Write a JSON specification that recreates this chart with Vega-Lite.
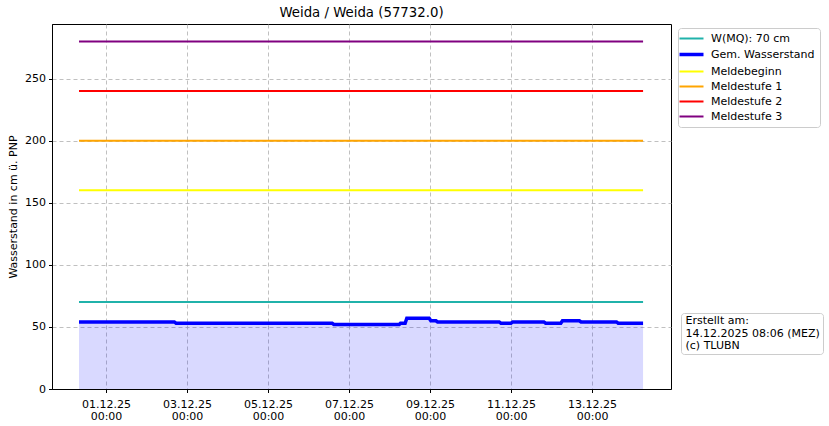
{
  "$schema": "https://vega.github.io/schema/vega-lite/v6.json",
  "width": 619,
  "height": 365,
  "autosize": {"type": "none"},
  "padding": {"left": 52, "top": 24, "right": 158, "bottom": 37},
  "background": "white",
  "title": {"text": "Weida / Weida (57732.0)", "fontSize": 13.3, "fontWeight": "normal", "color": "black", "font": "DejaVu Sans", "anchor": "middle", "offset": 5},
  "config": {
    "font": "DejaVu Sans",
    "view": {"stroke": "black", "strokeWidth": 1},
    "axis": {
      "labelFont": "DejaVu Sans", "labelFontSize": 11, "labelColor": "black",
      "titleFont": "DejaVu Sans", "titleFontSize": 11, "titleFontWeight": "normal", "titleColor": "black",
      "tickColor": "black", "tickSize": 3.5, "domainColor": "black",
      "gridColor": "#b0b0b0", "gridDash": [4, 3], "gridWidth": 0.8, "gridOpacity": 1
    }
  },
  "datasets": {
    "levels": [
      {"t": "2025-11-30T08:00:00Z", "v": 54, "s": "Gem. Wasserstand"},
      {"t": "2025-12-02T16:30:00Z", "v": 54, "s": "Gem. Wasserstand"},
      {"t": "2025-12-02T17:30:00Z", "v": 53, "s": "Gem. Wasserstand"},
      {"t": "2025-12-06T14:00:00Z", "v": 53, "s": "Gem. Wasserstand"},
      {"t": "2025-12-06T15:00:00Z", "v": 52, "s": "Gem. Wasserstand"},
      {"t": "2025-12-08T05:45:00Z", "v": 52, "s": "Gem. Wasserstand"},
      {"t": "2025-12-08T06:30:00Z", "v": 53, "s": "Gem. Wasserstand"},
      {"t": "2025-12-08T09:15:00Z", "v": 53, "s": "Gem. Wasserstand"},
      {"t": "2025-12-08T10:15:00Z", "v": 57, "s": "Gem. Wasserstand"},
      {"t": "2025-12-08T23:30:00Z", "v": 57, "s": "Gem. Wasserstand"},
      {"t": "2025-12-09T00:30:00Z", "v": 55, "s": "Gem. Wasserstand"},
      {"t": "2025-12-09T03:30:00Z", "v": 55, "s": "Gem. Wasserstand"},
      {"t": "2025-12-09T04:30:00Z", "v": 54, "s": "Gem. Wasserstand"},
      {"t": "2025-12-10T17:00:00Z", "v": 54, "s": "Gem. Wasserstand"},
      {"t": "2025-12-10T18:00:00Z", "v": 53, "s": "Gem. Wasserstand"},
      {"t": "2025-12-11T00:00:00Z", "v": 53, "s": "Gem. Wasserstand"},
      {"t": "2025-12-11T01:00:00Z", "v": 54, "s": "Gem. Wasserstand"},
      {"t": "2025-12-11T19:30:00Z", "v": 54, "s": "Gem. Wasserstand"},
      {"t": "2025-12-11T20:30:00Z", "v": 53, "s": "Gem. Wasserstand"},
      {"t": "2025-12-12T05:30:00Z", "v": 53, "s": "Gem. Wasserstand"},
      {"t": "2025-12-12T06:30:00Z", "v": 55, "s": "Gem. Wasserstand"},
      {"t": "2025-12-12T16:30:00Z", "v": 55, "s": "Gem. Wasserstand"},
      {"t": "2025-12-12T17:30:00Z", "v": 54, "s": "Gem. Wasserstand"},
      {"t": "2025-12-13T14:30:00Z", "v": 54, "s": "Gem. Wasserstand"},
      {"t": "2025-12-13T15:30:00Z", "v": 53, "s": "Gem. Wasserstand"},
      {"t": "2025-12-14T06:15:00Z", "v": 53, "s": "Gem. Wasserstand"},
      {"t": "2025-11-30T08:00:00Z", "v": 70, "s": "W(MQ): 70 cm"},
      {"t": "2025-12-14T06:15:00Z", "v": 70, "s": "W(MQ): 70 cm"},
      {"t": "2025-11-30T08:00:00Z", "v": 160, "s": "Meldebeginn"},
      {"t": "2025-12-14T06:15:00Z", "v": 160, "s": "Meldebeginn"},
      {"t": "2025-11-30T08:00:00Z", "v": 200, "s": "Meldestufe 1"},
      {"t": "2025-12-14T06:15:00Z", "v": 200, "s": "Meldestufe 1"},
      {"t": "2025-11-30T08:00:00Z", "v": 240, "s": "Meldestufe 2"},
      {"t": "2025-12-14T06:15:00Z", "v": 240, "s": "Meldestufe 2"},
      {"t": "2025-11-30T08:00:00Z", "v": 280, "s": "Meldestufe 3"},
      {"t": "2025-12-14T06:15:00Z", "v": 280, "s": "Meldestufe 3"}
    ],
    "note": [
      {"line": "Erstellt am:"},
      {"line": "14.12.2025 08:06 (MEZ)"},
      {"line": "(c) TLUBN"}
    ]
  },
  "encoding": {
    "x": {
      "field": "t", "type": "temporal",
      "scale": {"type": "utc", "domain": [{"year": 2025, "month": 11, "date": 29, "hours": 16, "utc": true}, {"year": 2025, "month": 12, "date": 14, "hours": 22, "minutes": 48, "utc": true}]},
      "axis": {
        "title": null,
        "values": [
          {"year": 2025, "month": 12, "date": 1, "utc": true},
          {"year": 2025, "month": 12, "date": 3, "utc": true},
          {"year": 2025, "month": 12, "date": 5, "utc": true},
          {"year": 2025, "month": 12, "date": 7, "utc": true},
          {"year": 2025, "month": 12, "date": 9, "utc": true},
          {"year": 2025, "month": 12, "date": 11, "utc": true},
          {"year": 2025, "month": 12, "date": 13, "utc": true}
        ],
        "labelExpr": "[utcFormat(datum.value, '%d.%m.%y'), utcFormat(datum.value, '%H:%M')]",
        "labelPadding": 6, "labelLineHeight": 12, "labelFlush": false, "labelOverlap": false
      }
    },
    "y": {
      "field": "v", "type": "quantitative",
      "scale": {"domain": [0, 294], "nice": false, "zero": true},
      "axis": {"title": "Wasserstand in cm ü. PNP", "values": [0, 50, 100, 150, 200, 250], "labelPadding": 3, "titlePadding": 6}
    }
  },
  "layer": [
    {
      "data": {"name": "levels"},
      "transform": [{"filter": "datum.s === 'Gem. Wasserstand'"}],
      "mark": {"type": "area", "color": "#0000ff", "opacity": 0.15}
    },
    {
      "data": {"name": "levels"},
      "mark": {"type": "line"},
      "encoding": {
        "color": {
          "field": "s", "type": "nominal",
          "scale": {"domain": ["W(MQ): 70 cm", "Gem. Wasserstand", "Meldebeginn", "Meldestufe 1", "Meldestufe 2", "Meldestufe 3"],
                    "range": ["#20b2aa", "#0000ff", "#ffff00", "#ffa500", "#ff0000", "#800080"]},
          "legend": {
            "title": null, "orient": "none", "legendX": 626, "legendY": 4,
            "symbolType": "M-1.5,0H2.5", "symbolSize": 144, "symbolStrokeWidth": 2,
            "labelOffset": 17, "labelFontSize": 11, "labelFont": "DejaVu Sans", "labelColor": "black",
            "padding": 5, "rowPadding": 3.0, "strokeColor": "#cccccc", "fillColor": "white", "cornerRadius": 3,
            "encode": {"symbols": {"update": {"strokeWidth": {"signal": "datum.label === 'Gem. Wasserstand' ? 3.5 : 2"}}}}
          }
        },
        "strokeWidth": {
          "condition": {"test": "datum.s === 'Gem. Wasserstand'", "value": 3.5},
          "value": 2
        }
      }
    },
    {
      "data": {"name": "note"},
      "mark": {"type": "point", "opacity": 0, "size": 0},
      "encoding": {
        "shape": {
          "field": "line", "type": "nominal",
          "scale": {"domain": ["Erstellt am:", "14.12.2025 08:06 (MEZ)", "(c) TLUBN"], "range": ["circle", "square", "diamond"]},
          "legend": {
            "title": null, "orient": "none", "legendX": 629, "legendY": 289,
            "symbolSize": 0, "symbolOpacity": 0, "symbolStrokeWidth": 0, "labelOffset": -9,
            "labelFontSize": 11, "labelFont": "DejaVu Sans", "labelColor": "black",
            "padding": 2.5, "rowPadding": 0.7, "strokeColor": "#cccccc", "fillColor": "white", "cornerRadius": 3
          }
        }
      }
    }
  ]
}
